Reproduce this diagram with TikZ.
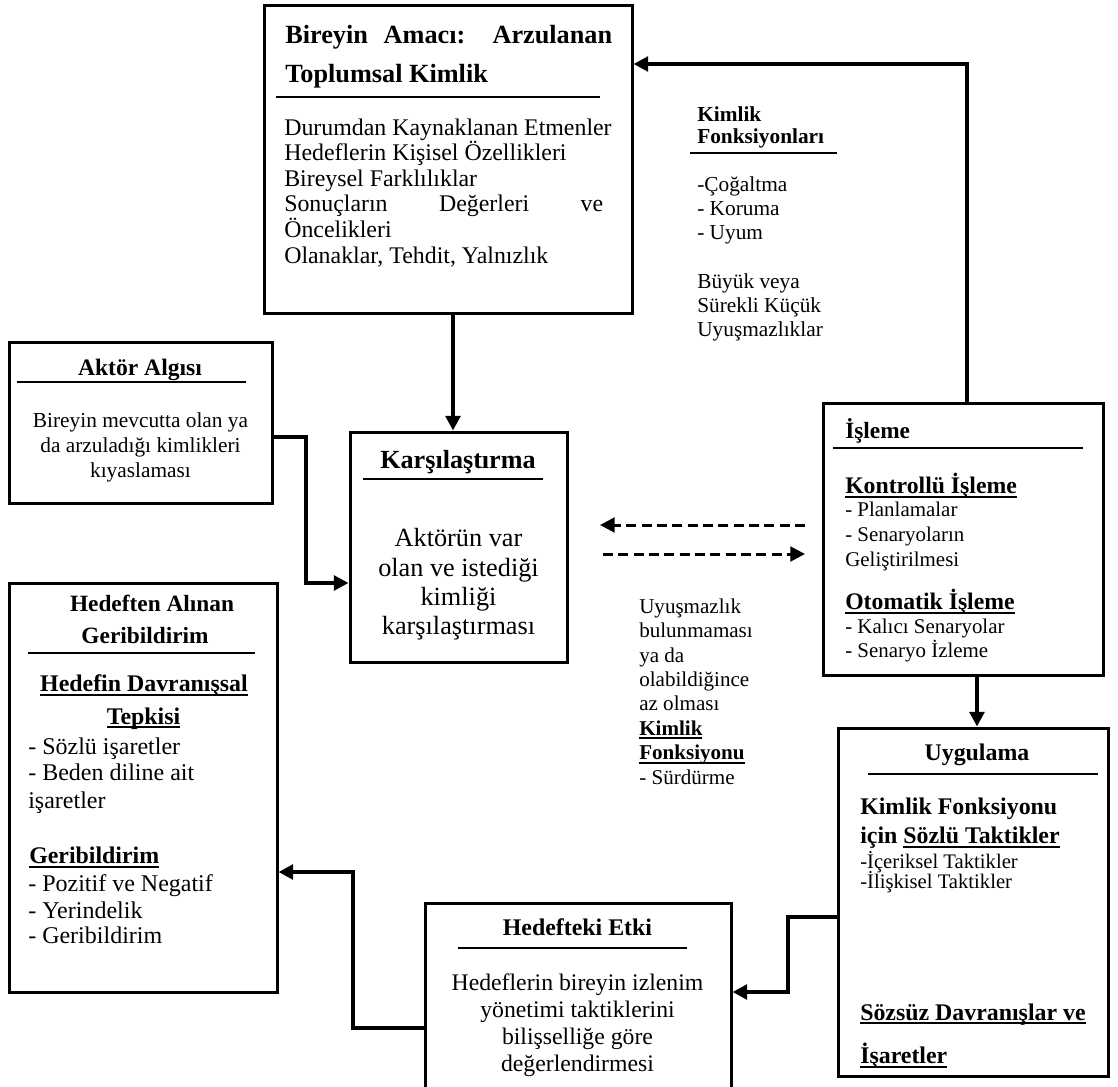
\documentclass[tikz,border=0pt]{standalone}
\usepackage{fontspec}
\setmainfont{Liberation Serif}
\usetikzlibrary{arrows.meta,fit}

% font size in pt with tight leading
\newcommand\fsz[1]{\fontsize{#1}{#1}\selectfont}
% underline at a fixed depth, crossing descenders
\newcommand\undl[1]{\sbox0{#1}\rlap{\rule[-0.18em]{\wd0}{0.085em}}\usebox0}

\begin{document}
\begin{tikzpicture}[x=0.75pt,y=-0.75pt,
  frame/.style={draw,line width=2.25pt,inner sep=0pt},
  rulel/.style={line width=1.1pt},
  conn/.style={line width=3pt,-{Triangle[length=11pt,width=11pt]}},
  dconn/.style={line width=2.25pt,dash pattern=on 7.5pt off 4pt,-{Triangle[length=11pt,width=11pt]}},
  lt/.style={inner sep=0pt,anchor=base west},
  ct/.style={inner sep=0pt,anchor=base},
]
\fill[white] (0,0) rectangle (1118,1086);
\useasboundingbox (0,0) rectangle (1118,1086);

% ---------- boxes ----------
\node[frame,fit={(264,5) (632,313)}] (A) {};
\node[frame,fit={(9,342) (272,503)}] (Ak) {};
\node[frame,fit={(350,432) (567,662)}] (K) {};
\node[frame,fit={(823,403) (1103,675)}] (Is) {};
\node[frame,fit={(838,728) (1108,1076)}] (Ug) {};
\node[frame,fit={(425,903) (731,1095)}] (He) {};
\node[frame,fit={(9,583) (277,992)}] (Hf) {};

% ---------- Bireyin Amacı ----------
\node[lt] (A-t1) at (285,43) {\fsz{19.7}\bfseries\makebox[245.2pt][s]{Bireyin Amacı: Arzulanan}};
\node[lt] (A-t2) at (285,82) {\fsz{19.7}\bfseries Toplumsal Kimlik};
\draw[rulel] (276,97) -- (600,97);
\foreach \yy/\tx [count=\i] in {135/Durumdan Kaynaklanan Etmenler,
  160.6/Hedeflerin Kişisel Özellikleri, 186.2/Bireysel Farklılıklar,
  211.8/{\makebox[239.2pt][s]{Sonuçların Değerleri ve}}, 237.4/Öncelikleri,
  263/{Olanaklar, Tehdit, Yalnızlık}}
  \node[lt,font=\fsz{17.9}] (A-b\i) at (284,\yy) {\tx};

% ---------- Kimlik Fonksiyonları ----------
\node[lt,font=\fsz{16}\bfseries] (Kf-t1) at (697,121.5) {Kimlik};
\node[lt,font=\fsz{16}\bfseries] (Kf-t2) at (697,143.5) {Fonksiyonları};
\draw[rulel] (690,153) -- (837,153);
\foreach \yy/\tx [count=\i] in {191.7/-Çoğaltma, 215.5/- Koruma, 239.3/- Uyum,
  288.3/Büyük veya, 312.3/Sürekli Küçük, 336.3/Uyuşmazlıklar}
  \node[lt,font=\fsz{16}] (Kf-b\i) at (697,\yy) {\tx};

% ---------- Aktör Algısı ----------
\node[ct,font=\fsz{17.7}\bfseries] (Ak-t) at (140,375) {Aktör Algısı};
\draw[rulel] (17,382) -- (246,382);
\foreach \yy/\tx [count=\i] in {427/Bireyin mevcutta olan ya,
  452/da arzuladığı kimlikleri, 477/kıyaslaması}
  \node[ct,font=\fsz{16}] (Ak-b\i) at (140.5,\yy) {\tx};

% ---------- Karşılaştırma ----------
\node[ct,font=\fsz{19.6}\bfseries] (K-t) at (458,468) {Karşılaştırma};
\draw[rulel] (363,479) -- (543,479);
\foreach \yy/\tx [count=\i] in {546.7/Aktörün var, 576/olan ve istediği,
  605.3/kimliği, 634.7/karşılaştırması}
  \node[ct,font=\fsz{19.7}] (K-b\i) at (458.5,\yy) {\tx};

% ---------- text between the dashed arrows ----------
\foreach \yy/\tx [count=\i] in {613.3/Uyuşmazlık, 637.7/bulunmaması, 662.1/ya da,
  686.5/olabildiğince, 710.9/az olması,
  735.3/{\bfseries\undl{Kimlik}}, 759.7/{\bfseries\undl{Fonksiyonu}},
  784.1/- Sürdürme}
  \node[lt,font=\fsz{15.8}] (M-\i) at (639,\yy) {\tx};

% ---------- İşleme ----------
\node[lt,font=\fsz{17.5}\bfseries] (Is-t) at (845,438.3) {İşleme};
\draw[rulel] (833,448) -- (1083,448);
\node[lt,font=\fsz{17.8}\bfseries] (Is-h1) at (845,493.3) {\undl{Kontrollü İşleme}};
\node[lt,font=\fsz{17.8}\bfseries] (Is-h2) at (845,609.3) {\undl{Otomatik İşleme}};
\foreach \yy/\tx [count=\i] in {516.7/- Planlamalar, 541.7/- Senaryoların,
  566/Geliştirilmesi, 633.3/- Kalıcı Senaryolar, 657.3/- Senaryo İzleme}
  \node[lt,font=\fsz{15.7}] (Is-b\i) at (845,\yy) {\tx};

% ---------- Uygulama ----------
\node[ct,font=\fsz{17.9}\bfseries] (Ug-t) at (977,760) {Uygulama};
\draw[rulel] (868,774) -- (1098,774);
\node[lt,font=\fsz{17.9}\bfseries] (Ug-h1) at (860,814) {Kimlik Fonksiyonu};
\node[lt,font=\fsz{17.9}\bfseries] (Ug-h2) at (860,843.3) {için \undl{Sözlü Taktikler}};
\node[lt,font=\fsz{15.5}] (Ug-b1) at (860,868.3) {-İçeriksel Taktikler};
\node[lt,font=\fsz{15.5}] (Ug-b2) at (860,888.3) {-İlişkisel Taktikler};
\node[lt,font=\fsz{17.9}\bfseries] (Ug-h3) at (860,1020) {\undl{Sözsüz Davranışlar ve}};
\node[lt,font=\fsz{17.9}\bfseries] (Ug-h4) at (860,1063.3) {\undl{İşaretler}};

% ---------- Hedefteki Etki ----------
\node[ct,font=\fsz{17.9}\bfseries] (He-t) at (577.5,935) {Hedefteki Etki};
\draw[rulel] (458,948) -- (687,948);
\foreach \yy/\tx [count=\i] in {990/Hedeflerin bireyin izlenim,
  1017.3/yönetimi taktiklerini, 1044.6/bilişselliğe göre, 1071.9/değerlendirmesi}
  \node[ct,font=\fsz{17.8}] (He-b\i) at (577.5,\yy) {\tx};

% ---------- Hedeften Alınan Geribildirim ----------
\node[ct,font=\fsz{17.5}\bfseries] (Hf-t1) at (152,611.7) {Hedeften Alınan};
\node[ct,font=\fsz{17.5}\bfseries] (Hf-t2) at (145,643.3) {Geribildirim};
\draw[rulel] (28,653) -- (255,653);
\node[ct,font=\fsz{17.9}\bfseries] (Hf-h1) at (144,691.7) {\undl{Hedefin Davranışsal}};
\node[ct,font=\fsz{17.9}\bfseries] (Hf-h2) at (143.5,724) {\undl{Tepkisi}};
\node[lt,font=\fsz{17.9}\bfseries] (Hf-h3) at (29,863.3) {\undl{Geribildirim}};
\foreach \yy/\tx [count=\i] in {754/- Sözlü işaretler, 780.7/- Beden diline ait,
  808.3/işaretler, 891.7/- Pozitif ve Negatif, 918.3/- Yerindelik,
  943.3/- Geribildirim}
  \node[lt,font=\fsz{18}] (Hf-b\i) at (28,\yy) {\tx};

% ---------- connector routes ----------
\coordinate (xA) at (453,0);
\coordinate (xAk) at (306,0);   \coordinate (yAk) at (0,437);  \coordinate (yK) at (0,583);
\coordinate (xTop) at (967,0);  \coordinate (yTop) at (0,64);
\coordinate (xIs) at (977,0);
\coordinate (xUg) at (788,0);   \coordinate (yUg) at (0,917);  \coordinate (yHe) at (0,992);
\coordinate (xHe) at (353,0);   \coordinate (yHeOut) at (0,1028); \coordinate (yHf) at (0,872);
\coordinate (d1s) at (805,525); \coordinate (d1e) at (600,525);
\coordinate (d2s) at (603,554); \coordinate (d2e) at (805,554);

\draw[conn] (A.south -| xA) -- (K.north -| xA);
\draw[conn] (Ak.east |- yAk) -| (xAk |- yK) -- (K.west |- yK);
\draw[conn] (Is.north -| xTop) |- (A.east |- yTop);
\draw[conn] (Is.south -| xIs) -- (Ug.north -| xIs);
\draw[conn] (Ug.west |- yUg) -| (xUg |- yHe) -- (He.east |- yHe);
\draw[conn] (He.west |- yHeOut) -| (xHe |- yHf) -- (Hf.east |- yHf);
\draw[dconn] (d1s) -- (d1e);
\draw[dconn] (d2s) -- (d2e);
\end{tikzpicture}
\end{document}
